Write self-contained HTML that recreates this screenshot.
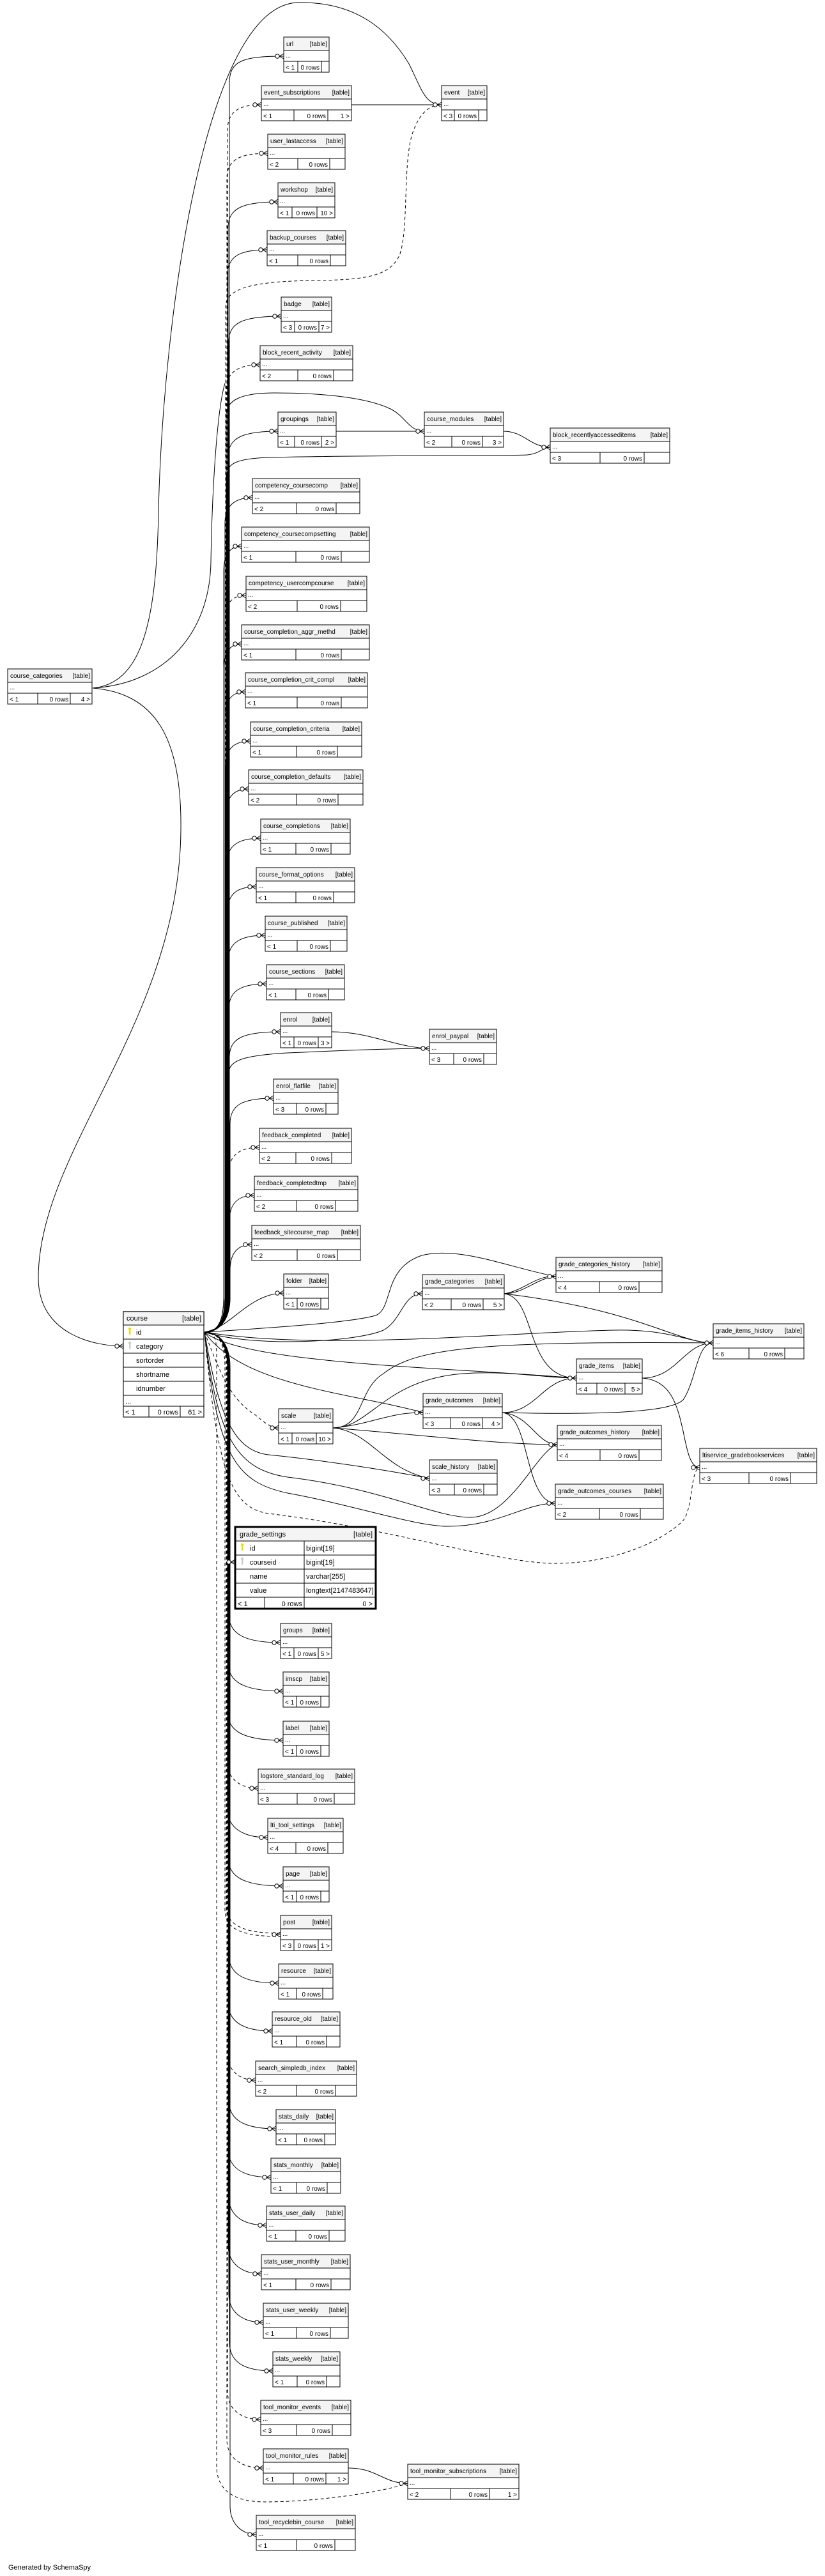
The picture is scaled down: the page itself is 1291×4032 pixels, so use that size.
<!DOCTYPE html>
<html><head><meta charset="utf-8"><style>
html,body{margin:0;padding:0;background:#fff}
svg{display:block}
text{font-family:"Liberation Sans",sans-serif;font-size:10px;fill:#000}
.r{text-anchor:end}
.b{fill:#fff;stroke:#000;stroke-width:1}
.h{fill:#f4f4f4;stroke:#000;stroke-width:1}
.l{fill:none;stroke:#000;stroke-width:1}
.e{fill:none;stroke:#000;stroke-width:1}
.d{fill:none;stroke:#000;stroke-width:1;stroke-dasharray:5,4}
.f text{font-size:11px}
</style></head><body>
<svg width="1291" height="4032" viewBox="0 0 1291 4032" xmlns="http://www.w3.org/2000/svg">
<defs>
<g id="cf"><line x1="-7" y1="0" x2="0" y2="-4" stroke="#000"/><line x1="-7" y1="0" x2="0" y2="0" stroke="#000"/><line x1="-7" y1="0" x2="0" y2="4" stroke="#000"/><circle cx="-10" cy="0" r="3.2" fill="#fff" stroke="#000"/></g>
</defs>

<!-- edges from course_categories -->
<path class="e" d="M145,1077 C220,1070 245,980 248,800 C255,500 320,8 466,4 C560,2 610,50 640,100 C660,140 665,164 691,164"/>
<path class="e" d="M145,1077 C260,1070 328,990 330,880 C332,760 340,640 352,600"/>
<path class="e" d="M145,1077 C240,1085 285,1150 283,1300 C280,1600 60,1800 60,2000 C60,2090 150,2107 193,2107"/>

<!-- bundle up -->
<path class="e" d="M320,2085 C340,2085 359,2070 359,2030 L359,130 C359,95 380,88 444,88"/>
<path class="d" d="M320,2085 C340,2085 356,2070 356,2030 L356,204 C356,174 375,164 409,164"/>
<path class="d" d="M320,2085 C340,2085 355,2070 355,2030 L355,280 C355,250 375,240 419,240"/>
<path class="e" d="M320,2085 C340,2085 357,2070 357,2030 L357,356 C357,326 380,316 435,316"/>
<path class="e" d="M320,2085 C340,2085 356,2070 356,2030 L356,431 C356,401 375,391 418,391"/>
<path class="e" d="M320,2085 C340,2085 358,2070 358,2030 L358,535 C358,505 380,495 440,495"/>
<path class="d" d="M320,2085 C340,2085 354,2070 354,2030 L354,611 C354,581 375,571 407,571"/>
<path class="e" d="M320,2085 C340,2085 357,2070 357,2030 L357,715 C357,685 380,675 435,675"/>
<path class="e" d="M320,2085 C340,2085 352,2070 352,2030 L352,819 C352,789 370,779 395,779"/>
<path class="e" d="M320,2085 C340,2085 350,2070 350,2030 L350,895 C350,865 362,855 378,855"/>
<path class="d" d="M320,2085 C340,2085 352,2070 352,2030 L352,972 C352,942 365,932 385,932"/>
<path class="e" d="M320,2085 C340,2085 350,2070 350,2030 L350,1048 C350,1018 362,1008 378,1008"/>
<path class="e" d="M320,2085 C340,2085 352,2070 352,2030 L352,1123 C352,1093 365,1083 384,1083"/>
<path class="e" d="M320,2085 C340,2085 353,2070 353,2030 L353,1200 C353,1170 368,1160 392,1160"/>
<path class="e" d="M320,2085 C340,2085 354,2070 354,2030 L354,1275 C354,1245 368,1235 389,1235"/>
<path class="e" d="M320,2085 C340,2085 355,2070 355,2030 L355,1352 C355,1322 375,1312 408,1312"/>
<path class="e" d="M320,2085 C340,2085 356,2070 356,2030 L356,1428 C356,1398 372,1388 401,1388"/>
<path class="e" d="M320,2085 C340,2085 357,2070 357,2030 L357,1504 C357,1474 378,1464 415,1464"/>
<path class="e" d="M320,2085 C340,2085 358,2070 358,2030 L358,1580 C358,1550 378,1540 417,1540"/>
<path class="e" d="M320,2085 C340,2085 359,2070 359,2030 L359,1655 C359,1625 380,1615 439,1615"/>
<path class="e" d="M320,2085 C340,2085 360,2070 360,2030 L360,1759 C360,1729 380,1719 428,1719"/>
<path class="d" d="M320,2085 C340,2085 358,2070 358,2030 L358,1836 C358,1806 378,1796 406,1796"/>
<path class="e" d="M320,2085 C340,2085 359,2070 359,2030 L359,1911 C359,1881 375,1871 398,1871"/>
<path class="e" d="M320,2085 C340,2085 360,2070 360,2030 L360,1988 C360,1958 375,1948 394,1948"/>
<path class="e" d="M320,2085 C345,2080 360,2065 380,2050 C400,2035 420,2024 444,2024"/>
<!-- event dashed, course_modules, blocks, enrol_paypal -->
<path class="d" d="M320,2085 C340,2085 353,2070 353,2030 L353,480 C353,450 400,440 495,439 C580,438 610,430 625,400 C640,360 630,260 645,210 C655,180 670,164 691,164"/>
<path class="e" d="M320,2085 C340,2085 354,2070 354,2030 L354,650 C354,625 380,615 429,615 C520,615 580,625 611,640 C635,652 640,675 664,675"/>
<path class="e" d="M320,2085 C340,2085 355,2070 355,2030 L355,745 C355,725 370,718 420,716 C600,712 780,714 825,712 C845,710 850,700 861,700"/>
<path class="e" d="M320,2085 C340,2085 358,2070 358,2030 L358,1680 C358,1660 380,1652 450,1648 C560,1643 620,1641 672,1641"/>
<path class="e" d="M526,675 L664,675"/>
<path class="e" d="M788,675 C820,675 830,700 861,700"/>
<path class="e" d="M550,164 L691,164"/>
<path class="e" d="M519,1615 C580,1615 620,1640 672,1641"/>

<!-- right side from course -->
<path class="e" d="M320,2085 C400,2080 560,2070 590,2058 C615,2045 600,1985 660,1965 C720,1950 800,1985 870,1998"/>
<path class="e" d="M320,2085 C400,2110 560,2100 600,2082 C630,2065 630,2025 661,2025"/>
<path class="e" d="M320,2085 C500,2115 800,2085 960,2082 C1050,2080 1080,2102 1116,2102"/>
<path class="e" d="M320,2085 C380,2135 700,2140 902,2157"/>
<path class="e" d="M320,2085 C380,2170 550,2180 662,2211"/>
<path class="d" d="M320,2085 C345,2150 360,2190 400,2215 C415,2228 425,2235 436,2235"/>
<path class="e" d="M320,2085 C340,2200 360,2270 420,2277 C500,2285 600,2300 672,2314"/>
<path class="e" d="M320,2085 C340,2250 370,2300 450,2312 C600,2330 680,2375 736,2375 C800,2375 840,2270 872,2261"/>
<path class="e" d="M320,2085 C340,2280 370,2320 450,2337 C550,2355 650,2389 701,2389 C780,2389 820,2353 869,2353"/>
<path class="d" d="M320,2085 C340,2300 360,2360 420,2369 C600,2390 780,2447 868,2447 C980,2447 1050,2400 1069,2380 C1085,2360 1080,2300 1095,2297"/>
<!-- grade inter-table -->
<path class="e" d="M789,2025 C820,2025 840,2000 870,1998"/>
<path class="e" d="M789,2025 C820,2020 840,1995 870,1998"/>
<path class="e" d="M789,2025 C840,2030 820,2157 902,2157"/>
<path class="e" d="M789,2025 C1000,2050 1060,2102 1116,2102"/>
<path class="e" d="M1005,2157 C1060,2157 1070,2102 1116,2102"/>
<path class="e" d="M1005,2157 C1050,2160 1060,2200 1069,2240 C1075,2270 1080,2297 1095,2297"/>
<path class="e" d="M786,2211 C840,2211 850,2157 902,2157"/>
<path class="e" d="M786,2211 C950,2215 1050,2210 1069,2191 C1090,2160 1090,2102 1116,2102"/>
<path class="e" d="M786,2211 C830,2215 840,2261 872,2261"/>
<path class="e" d="M786,2211 C830,2215 820,2350 869,2353"/>
<path class="e" d="M521,2235 C570,2235 560,2174 600,2150 C650,2110 750,2099 1116,2102"/>
<path class="e" d="M521,2235 C580,2235 600,2160 724,2150 C800,2145 850,2157 902,2157"/>
<path class="e" d="M521,2235 C580,2230 610,2210 662,2211"/>
<path class="e" d="M521,2235 C650,2245 780,2261 872,2261"/>
<path class="e" d="M521,2235 C580,2240 600,2300 672,2314"/>

<!-- bundle down -->
<path class="e" d="M320,2085 C340,2085 358,2100 358,2140 L358,2526 C358,2556 380,2571 439,2571"/>
<path class="e" d="M320,2085 C340,2085 357,2100 357,2140 L357,2602 C357,2632 380,2647 443,2647"/>
<path class="e" d="M320,2085 C340,2085 356,2100 356,2140 L356,2679 C356,2709 380,2724 443,2724"/>
<path class="d" d="M320,2085 C340,2085 355,2100 355,2140 L355,2754 C355,2784 375,2799 404,2799"/>
<path class="e" d="M320,2085 C340,2085 356,2100 356,2140 L356,2831 C356,2861 380,2876 419,2876"/>
<path class="e" d="M320,2085 C340,2085 357,2100 357,2140 L357,2907 C357,2937 380,2952 443,2952"/>
<path class="d" d="M320,2085 C340,2085 354,2100 354,2140 L354,2983 C354,3013 380,3026 439,3026"/>
<path class="d" d="M320,2085 C340,2085 352,2100 352,2140 L352,2990 C352,3020 380,3031 439,3031"/>
<path class="e" d="M320,2085 C340,2085 358,2100 358,2140 L358,3059 C358,3089 380,3104 436,3104"/>
<path class="e" d="M320,2085 C340,2085 357,2100 357,2140 L357,3134 C357,3164 380,3179 426,3179"/>
<path class="d" d="M320,2085 C340,2085 355,2100 355,2140 L355,3211 C355,3241 375,3256 400,3256"/>
<path class="e" d="M320,2085 C340,2085 358,2100 358,2140 L358,3287 C358,3317 380,3332 432,3332"/>
<path class="e" d="M320,2085 C340,2085 357,2100 357,2140 L357,3363 C357,3393 380,3408 424,3408"/>
<path class="e" d="M320,2085 C340,2085 358,2100 358,2140 L358,3438 C358,3468 380,3483 417,3483"/>
<path class="e" d="M320,2085 C340,2085 357,2100 357,2140 L357,3514 C357,3544 380,3559 409,3559"/>
<path class="e" d="M320,2085 C340,2085 358,2100 358,2140 L358,3590 C358,3620 380,3635 412,3635"/>
<path class="e" d="M320,2085 C340,2085 359,2100 359,2140 L359,3666 C359,3696 380,3711 427,3711"/>
<path class="d" d="M320,2085 C340,2085 356,2100 356,2140 L356,3742 C356,3772 378,3787 408,3787"/>
<path class="d" d="M320,2085 C340,2085 355,2100 355,2140 L355,3818 C355,3848 378,3863 412,3863"/>
<path class="d" d="M320,2085 C340,2085 339,2100 339,2140 L339,3860 C339,3900 370,3916 413,3916 C500,3916 600,3900 638,3887"/>
<path class="e" d="M320,2085 C340,2085 360,2100 360,2140 L360,3922 C360,3952 380,3967 401,3967"/>
<path class="e" d="M545,3863 C590,3863 600,3887 638,3887"/>

<!-- markers -->
<use href="#cf" x="444" y="88"/><use href="#cf" x="409" y="164"/><use href="#cf" x="691" y="164"/><use href="#cf" x="419" y="240"/><use href="#cf" x="435" y="316"/><use href="#cf" x="418" y="391"/><use href="#cf" x="440" y="495"/><use href="#cf" x="407" y="571"/><use href="#cf" x="435" y="675"/><use href="#cf" x="664" y="675"/><use href="#cf" x="861" y="700"/><use href="#cf" x="395" y="779"/><use href="#cf" x="378" y="855"/><use href="#cf" x="385" y="932"/><use href="#cf" x="378" y="1008"/><use href="#cf" x="384" y="1083"/><use href="#cf" x="392" y="1160"/><use href="#cf" x="389" y="1235"/><use href="#cf" x="408" y="1312"/><use href="#cf" x="401" y="1388"/><use href="#cf" x="415" y="1464"/><use href="#cf" x="417" y="1540"/><use href="#cf" x="439" y="1615"/><use href="#cf" x="672" y="1641"/><use href="#cf" x="428" y="1719"/><use href="#cf" x="406" y="1796"/><use href="#cf" x="398" y="1871"/><use href="#cf" x="394" y="1948"/><use href="#cf" x="444" y="2024"/><use href="#cf" x="661" y="2025"/><use href="#cf" x="870" y="1998"/><use href="#cf" x="1116" y="2102"/><use href="#cf" x="902" y="2157"/><use href="#cf" x="662" y="2211"/><use href="#cf" x="436" y="2235"/><use href="#cf" x="872" y="2261"/><use href="#cf" x="1095" y="2297"/><use href="#cf" x="672" y="2314"/><use href="#cf" x="869" y="2353"/><use href="#cf" x="193" y="2107"/><use href="#cf" x="368" y="2445"/><use href="#cf" x="439" y="2571"/><use href="#cf" x="443" y="2647"/><use href="#cf" x="443" y="2724"/><use href="#cf" x="404" y="2799"/><use href="#cf" x="419" y="2876"/><use href="#cf" x="443" y="2952"/><use href="#cf" x="439" y="3028"/><use href="#cf" x="436" y="3104"/><use href="#cf" x="426" y="3179"/><use href="#cf" x="400" y="3256"/><use href="#cf" x="432" y="3332"/><use href="#cf" x="424" y="3408"/><use href="#cf" x="417" y="3483"/><use href="#cf" x="409" y="3559"/><use href="#cf" x="412" y="3635"/><use href="#cf" x="427" y="3711"/><use href="#cf" x="408" y="3787"/><use href="#cf" x="412" y="3863"/><use href="#cf" x="638" y="3887"/><use href="#cf" x="401" y="3967"/>

<!-- boxes -->
<g transform="translate(444,58)"><rect class="b" width="71" height="55"/><rect class="h" width="71" height="21"/><path class="l" d="M0,38H71M22,38V55M59,38V55"/><text x="4" y="14">url</text><text class="r" x="68" y="14">[table]</text><text x="3" y="32">...</text><text x="3" y="51">&lt; 1</text><text class="r" x="56" y="51">0 rows</text></g>
<g transform="translate(409,134)"><rect class="b" width="141" height="55"/><rect class="h" width="141" height="21"/><path class="l" d="M0,38H141M51,38V55M104,38V55"/><text x="4" y="14">event_subscriptions</text><text class="r" x="138" y="14">[table]</text><text x="3" y="32">...</text><text x="3" y="51">&lt; 1</text><text class="r" x="101" y="51">0 rows</text><text class="r" x="138" y="51">1 &gt;</text></g>
<g transform="translate(691,134)"><rect class="b" width="71" height="55"/><rect class="h" width="71" height="21"/><path class="l" d="M0,38H71M20,38V55M58,38V55"/><text x="4" y="14">event</text><text class="r" x="68" y="14">[table]</text><text x="3" y="32">...</text><text x="3" y="51">&lt; 3</text><text class="r" x="55" y="51">0 rows</text></g>
<g transform="translate(419,210)"><rect class="b" width="121" height="55"/><rect class="h" width="121" height="21"/><path class="l" d="M0,38H121M47,38V55M97,38V55"/><text x="4" y="14">user_lastaccess</text><text class="r" x="118" y="14">[table]</text><text x="3" y="32">...</text><text x="3" y="51">&lt; 2</text><text class="r" x="94" y="51">0 rows</text></g>
<g transform="translate(435,286)"><rect class="b" width="89" height="55"/><rect class="h" width="89" height="21"/><path class="l" d="M0,38H89M22,38V55M61,38V55"/><text x="4" y="14">workshop</text><text class="r" x="86" y="14">[table]</text><text x="3" y="32">...</text><text x="3" y="51">&lt; 1</text><text class="r" x="58" y="51">0 rows</text><text class="r" x="86" y="51">10 &gt;</text></g>
<g transform="translate(418,361)"><rect class="b" width="123" height="55"/><rect class="h" width="123" height="21"/><path class="l" d="M0,38H123M48,38V55M99,38V55"/><text x="4" y="14">backup_courses</text><text class="r" x="120" y="14">[table]</text><text x="3" y="32">...</text><text x="3" y="51">&lt; 1</text><text class="r" x="96" y="51">0 rows</text></g>
<g transform="translate(440,465)"><rect class="b" width="79" height="55"/><rect class="h" width="79" height="21"/><path class="l" d="M0,38H79M21,38V55M59,38V55"/><text x="4" y="14">badge</text><text class="r" x="76" y="14">[table]</text><text x="3" y="32">...</text><text x="3" y="51">&lt; 3</text><text class="r" x="56" y="51">0 rows</text><text class="r" x="76" y="51">7 &gt;</text></g>
<g transform="translate(407,541)"><rect class="b" width="145" height="55"/><rect class="h" width="145" height="21"/><path class="l" d="M0,38H145M59,38V55M115,38V55"/><text x="4" y="14">block_recent_activity</text><text class="r" x="142" y="14">[table]</text><text x="3" y="32">...</text><text x="3" y="51">&lt; 2</text><text class="r" x="112" y="51">0 rows</text></g>
<g transform="translate(435,645)"><rect class="b" width="91" height="55"/><rect class="h" width="91" height="21"/><path class="l" d="M0,38H91M26,38V55M68,38V55"/><text x="4" y="14">groupings</text><text class="r" x="88" y="14">[table]</text><text x="3" y="32">...</text><text x="3" y="51">&lt; 1</text><text class="r" x="65" y="51">0 rows</text><text class="r" x="88" y="51">2 &gt;</text></g>
<g transform="translate(664,645)"><rect class="b" width="124" height="55"/><rect class="h" width="124" height="21"/><path class="l" d="M0,38H124M43,38V55M91,38V55"/><text x="4" y="14">course_modules</text><text class="r" x="121" y="14">[table]</text><text x="3" y="32">...</text><text x="3" y="51">&lt; 2</text><text class="r" x="88" y="51">0 rows</text><text class="r" x="121" y="51">3 &gt;</text></g>
<g transform="translate(861,670)"><rect class="b" width="187" height="55"/><rect class="h" width="187" height="21"/><path class="l" d="M0,38H187M78,38V55M147,38V55"/><text x="4" y="14">block_recentlyaccesseditems</text><text class="r" x="184" y="14">[table]</text><text x="3" y="32">...</text><text x="3" y="51">&lt; 3</text><text class="r" x="144" y="51">0 rows</text></g>
<g transform="translate(395,749)"><rect class="b" width="168" height="55"/><rect class="h" width="168" height="21"/><path class="l" d="M0,38H168M69,38V55M131,38V55"/><text x="4" y="14">competency_coursecomp</text><text class="r" x="165" y="14">[table]</text><text x="3" y="32">...</text><text x="3" y="51">&lt; 2</text><text class="r" x="128" y="51">0 rows</text></g>
<g transform="translate(378,825)"><rect class="b" width="200" height="55"/><rect class="h" width="200" height="21"/><path class="l" d="M0,38H200M85,38V55M156,38V55"/><text x="4" y="14">competency_coursecompsetting</text><text class="r" x="197" y="14">[table]</text><text x="3" y="32">...</text><text x="3" y="51">&lt; 1</text><text class="r" x="153" y="51">0 rows</text></g>
<g transform="translate(385,902)"><rect class="b" width="189" height="55"/><rect class="h" width="189" height="21"/><path class="l" d="M0,38H189M80,38V55M148,38V55"/><text x="4" y="14">competency_usercompcourse</text><text class="r" x="186" y="14">[table]</text><text x="3" y="32">...</text><text x="3" y="51">&lt; 2</text><text class="r" x="145" y="51">0 rows</text></g>
<g transform="translate(378,978)"><rect class="b" width="200" height="55"/><rect class="h" width="200" height="21"/><path class="l" d="M0,38H200M85,38V55M156,38V55"/><text x="4" y="14">course_completion_aggr_methd</text><text class="r" x="197" y="14">[table]</text><text x="3" y="32">...</text><text x="3" y="51">&lt; 1</text><text class="r" x="153" y="51">0 rows</text></g>
<g transform="translate(384,1053)"><rect class="b" width="191" height="55"/><rect class="h" width="191" height="21"/><path class="l" d="M0,38H191M81,38V55M150,38V55"/><text x="4" y="14">course_completion_crit_compl</text><text class="r" x="188" y="14">[table]</text><text x="3" y="32">...</text><text x="3" y="51">&lt; 1</text><text class="r" x="147" y="51">0 rows</text></g>
<g transform="translate(392,1130)"><rect class="b" width="174" height="55"/><rect class="h" width="174" height="21"/><path class="l" d="M0,38H174M72,38V55M136,38V55"/><text x="4" y="14">course_completion_criteria</text><text class="r" x="171" y="14">[table]</text><text x="3" y="32">...</text><text x="3" y="51">&lt; 1</text><text class="r" x="133" y="51">0 rows</text></g>
<g transform="translate(389,1205)"><rect class="b" width="179" height="55"/><rect class="h" width="179" height="21"/><path class="l" d="M0,38H179M75,38V55M140,38V55"/><text x="4" y="14">course_completion_defaults</text><text class="r" x="176" y="14">[table]</text><text x="3" y="32">...</text><text x="3" y="51">&lt; 2</text><text class="r" x="137" y="51">0 rows</text></g>
<g transform="translate(408,1282)"><rect class="b" width="140" height="55"/><rect class="h" width="140" height="21"/><path class="l" d="M0,38H140M55,38V55M110,38V55"/><text x="4" y="14">course_completions</text><text class="r" x="137" y="14">[table]</text><text x="3" y="32">...</text><text x="3" y="51">&lt; 1</text><text class="r" x="107" y="51">0 rows</text></g>
<g transform="translate(401,1358)"><rect class="b" width="154" height="55"/><rect class="h" width="154" height="21"/><path class="l" d="M0,38H154M62,38V55M121,38V55"/><text x="4" y="14">course_format_options</text><text class="r" x="151" y="14">[table]</text><text x="3" y="32">...</text><text x="3" y="51">&lt; 1</text><text class="r" x="118" y="51">0 rows</text></g>
<g transform="translate(415,1434)"><rect class="b" width="128" height="55"/><rect class="h" width="128" height="21"/><path class="l" d="M0,38H128M50,38V55M102,38V55"/><text x="4" y="14">course_published</text><text class="r" x="125" y="14">[table]</text><text x="3" y="32">...</text><text x="3" y="51">&lt; 1</text><text class="r" x="99" y="51">0 rows</text></g>
<g transform="translate(417,1510)"><rect class="b" width="122" height="55"/><rect class="h" width="122" height="21"/><path class="l" d="M0,38H122M46,38V55M97,38V55"/><text x="4" y="14">course_sections</text><text class="r" x="119" y="14">[table]</text><text x="3" y="32">...</text><text x="3" y="51">&lt; 1</text><text class="r" x="94" y="51">0 rows</text></g>
<g transform="translate(439,1585)"><rect class="b" width="80" height="55"/><rect class="h" width="80" height="21"/><path class="l" d="M0,38H80M21,38V55M59,38V55"/><text x="4" y="14">enrol</text><text class="r" x="77" y="14">[table]</text><text x="3" y="32">...</text><text x="3" y="51">&lt; 1</text><text class="r" x="56" y="51">0 rows</text><text class="r" x="77" y="51">3 &gt;</text></g>
<g transform="translate(672,1611)"><rect class="b" width="105" height="55"/><rect class="h" width="105" height="21"/><path class="l" d="M0,38H105M38,38V55M85,38V55"/><text x="4" y="14">enrol_paypal</text><text class="r" x="102" y="14">[table]</text><text x="3" y="32">...</text><text x="3" y="51">&lt; 3</text><text class="r" x="82" y="51">0 rows</text></g>
<g transform="translate(428,1689)"><rect class="b" width="101" height="55"/><rect class="h" width="101" height="21"/><path class="l" d="M0,38H101M36,38V55M82,38V55"/><text x="4" y="14">enrol_flatfile</text><text class="r" x="98" y="14">[table]</text><text x="3" y="32">...</text><text x="3" y="51">&lt; 3</text><text class="r" x="79" y="51">0 rows</text></g>
<g transform="translate(406,1766)"><rect class="b" width="144" height="55"/><rect class="h" width="144" height="21"/><path class="l" d="M0,38H144M57,38V55M113,38V55"/><text x="4" y="14">feedback_completed</text><text class="r" x="141" y="14">[table]</text><text x="3" y="32">...</text><text x="3" y="51">&lt; 2</text><text class="r" x="110" y="51">0 rows</text></g>
<g transform="translate(398,1841)"><rect class="b" width="162" height="55"/><rect class="h" width="162" height="21"/><path class="l" d="M0,38H162M66,38V55M127,38V55"/><text x="4" y="14">feedback_completedtmp</text><text class="r" x="159" y="14">[table]</text><text x="3" y="32">...</text><text x="3" y="51">&lt; 2</text><text class="r" x="124" y="51">0 rows</text></g>
<g transform="translate(394,1918)"><rect class="b" width="170" height="55"/><rect class="h" width="170" height="21"/><path class="l" d="M0,38H170M71,38V55M134,38V55"/><text x="4" y="14">feedback_sitecourse_map</text><text class="r" x="167" y="14">[table]</text><text x="3" y="32">...</text><text x="3" y="51">&lt; 2</text><text class="r" x="131" y="51">0 rows</text></g>
<g transform="translate(444,1994)"><rect class="b" width="70" height="55"/><rect class="h" width="70" height="21"/><path class="l" d="M0,38H70M21,38V55M58,38V55"/><text x="4" y="14">folder</text><text class="r" x="67" y="14">[table]</text><text x="3" y="32">...</text><text x="3" y="51">&lt; 1</text><text class="r" x="55" y="51">0 rows</text></g>
<g transform="translate(661,1995)"><rect class="b" width="128" height="55"/><rect class="h" width="128" height="21"/><path class="l" d="M0,38H128M45,38V55M95,38V55"/><text x="4" y="14">grade_categories</text><text class="r" x="125" y="14">[table]</text><text x="3" y="32">...</text><text x="3" y="51">&lt; 2</text><text class="r" x="92" y="51">0 rows</text><text class="r" x="125" y="51">5 &gt;</text></g>
<g transform="translate(870,1968)"><rect class="b" width="166" height="55"/><rect class="h" width="166" height="21"/><path class="l" d="M0,38H166M68,38V55M130,38V55"/><text x="4" y="14">grade_categories_history</text><text class="r" x="163" y="14">[table]</text><text x="3" y="32">...</text><text x="3" y="51">&lt; 4</text><text class="r" x="127" y="51">0 rows</text></g>
<g transform="translate(1116,2072)"><rect class="b" width="142" height="55"/><rect class="h" width="142" height="21"/><path class="l" d="M0,38H142M56,38V55M112,38V55"/><text x="4" y="14">grade_items_history</text><text class="r" x="139" y="14">[table]</text><text x="3" y="32">...</text><text x="3" y="51">&lt; 6</text><text class="r" x="109" y="51">0 rows</text></g>
<g transform="translate(902,2127)"><rect class="b" width="103" height="55"/><rect class="h" width="103" height="21"/><path class="l" d="M0,38H103M32,38V55M76,38V55"/><text x="4" y="14">grade_items</text><text class="r" x="100" y="14">[table]</text><text x="3" y="32">...</text><text x="3" y="51">&lt; 4</text><text class="r" x="73" y="51">0 rows</text><text class="r" x="100" y="51">5 &gt;</text></g>
<g transform="translate(662,2181)"><rect class="b" width="124" height="55"/><rect class="h" width="124" height="21"/><path class="l" d="M0,38H124M43,38V55M93,38V55"/><text x="4" y="14">grade_outcomes</text><text class="r" x="121" y="14">[table]</text><text x="3" y="32">...</text><text x="3" y="51">&lt; 3</text><text class="r" x="90" y="51">0 rows</text><text class="r" x="121" y="51">4 &gt;</text></g>
<g transform="translate(436,2205)"><rect class="b" width="85" height="55"/><rect class="h" width="85" height="21"/><path class="l" d="M0,38H85M21,38V55M59,38V55"/><text x="4" y="14">scale</text><text class="r" x="82" y="14">[table]</text><text x="3" y="32">...</text><text x="3" y="51">&lt; 1</text><text class="r" x="56" y="51">0 rows</text><text class="r" x="82" y="51">10 &gt;</text></g>
<g transform="translate(872,2231)"><rect class="b" width="163" height="55"/><rect class="h" width="163" height="21"/><path class="l" d="M0,38H163M67,38V55M128,38V55"/><text x="4" y="14">grade_outcomes_history</text><text class="r" x="160" y="14">[table]</text><text x="3" y="32">...</text><text x="3" y="51">&lt; 4</text><text class="r" x="125" y="51">0 rows</text></g>
<g transform="translate(1095,2267)"><rect class="b" width="183" height="55"/><rect class="h" width="183" height="21"/><path class="l" d="M0,38H183M77,38V55M142,38V55"/><text x="4" y="14">ltiservice_gradebookservices</text><text class="r" x="180" y="14">[table]</text><text x="3" y="32">...</text><text x="3" y="51">&lt; 3</text><text class="r" x="139" y="51">0 rows</text></g>
<g transform="translate(672,2285)"><rect class="b" width="106" height="55"/><rect class="h" width="106" height="21"/><path class="l" d="M0,38H106M39,38V55M85,38V55"/><text x="4" y="14">scale_history</text><text class="r" x="103" y="14">[table]</text><text x="3" y="32">...</text><text x="3" y="51">&lt; 3</text><text class="r" x="82" y="51">0 rows</text></g>
<g transform="translate(869,2323)"><rect class="b" width="169" height="55"/><rect class="h" width="169" height="21"/><path class="l" d="M0,38H169M69,38V55M133,38V55"/><text x="4" y="14">grade_outcomes_courses</text><text class="r" x="166" y="14">[table]</text><text x="3" y="32">...</text><text x="3" y="51">&lt; 2</text><text class="r" x="130" y="51">0 rows</text></g>
<g transform="translate(439,2541)"><rect class="b" width="80" height="55"/><rect class="h" width="80" height="21"/><path class="l" d="M0,38H80M21,38V55M59,38V55"/><text x="4" y="14">groups</text><text class="r" x="77" y="14">[table]</text><text x="3" y="32">...</text><text x="3" y="51">&lt; 1</text><text class="r" x="56" y="51">0 rows</text><text class="r" x="77" y="51">5 &gt;</text></g>
<g transform="translate(443,2617)"><rect class="b" width="72" height="55"/><rect class="h" width="72" height="21"/><path class="l" d="M0,38H72M21,38V55M59,38V55"/><text x="4" y="14">imscp</text><text class="r" x="69" y="14">[table]</text><text x="3" y="32">...</text><text x="3" y="51">&lt; 1</text><text class="r" x="56" y="51">0 rows</text></g>
<g transform="translate(443,2694)"><rect class="b" width="72" height="55"/><rect class="h" width="72" height="21"/><path class="l" d="M0,38H72M21,38V55M59,38V55"/><text x="4" y="14">label</text><text class="r" x="69" y="14">[table]</text><text x="3" y="32">...</text><text x="3" y="51">&lt; 1</text><text class="r" x="56" y="51">0 rows</text></g>
<g transform="translate(404,2769)"><rect class="b" width="151" height="55"/><rect class="h" width="151" height="21"/><path class="l" d="M0,38H151M61,38V55M119,38V55"/><text x="4" y="14">logstore_standard_log</text><text class="r" x="148" y="14">[table]</text><text x="3" y="32">...</text><text x="3" y="51">&lt; 3</text><text class="r" x="116" y="51">0 rows</text></g>
<g transform="translate(419,2846)"><rect class="b" width="118" height="55"/><rect class="h" width="118" height="21"/><path class="l" d="M0,38H118M44,38V55M94,38V55"/><text x="4" y="14">lti_tool_settings</text><text class="r" x="115" y="14">[table]</text><text x="3" y="32">...</text><text x="3" y="51">&lt; 4</text><text class="r" x="91" y="51">0 rows</text></g>
<g transform="translate(443,2922)"><rect class="b" width="72" height="55"/><rect class="h" width="72" height="21"/><path class="l" d="M0,38H72M21,38V55M59,38V55"/><text x="4" y="14">page</text><text class="r" x="69" y="14">[table]</text><text x="3" y="32">...</text><text x="3" y="51">&lt; 1</text><text class="r" x="56" y="51">0 rows</text></g>
<g transform="translate(439,2998)"><rect class="b" width="80" height="55"/><rect class="h" width="80" height="21"/><path class="l" d="M0,38H80M21,38V55M59,38V55"/><text x="4" y="14">post</text><text class="r" x="77" y="14">[table]</text><text x="3" y="32">...</text><text x="3" y="51">&lt; 3</text><text class="r" x="56" y="51">0 rows</text><text class="r" x="77" y="51">1 &gt;</text></g>
<g transform="translate(436,3074)"><rect class="b" width="85" height="55"/><rect class="h" width="85" height="21"/><path class="l" d="M0,38H85M28,38V55M69,38V55"/><text x="4" y="14">resource</text><text class="r" x="82" y="14">[table]</text><text x="3" y="32">...</text><text x="3" y="51">&lt; 1</text><text class="r" x="66" y="51">0 rows</text></g>
<g transform="translate(426,3149)"><rect class="b" width="106" height="55"/><rect class="h" width="106" height="21"/><path class="l" d="M0,38H106M38,38V55M85,38V55"/><text x="4" y="14">resource_old</text><text class="r" x="103" y="14">[table]</text><text x="3" y="32">...</text><text x="3" y="51">&lt; 1</text><text class="r" x="82" y="51">0 rows</text></g>
<g transform="translate(400,3226)"><rect class="b" width="158" height="55"/><rect class="h" width="158" height="21"/><path class="l" d="M0,38H158M64,38V55M125,38V55"/><text x="4" y="14">search_simpledb_index</text><text class="r" x="155" y="14">[table]</text><text x="3" y="32">...</text><text x="3" y="51">&lt; 2</text><text class="r" x="122" y="51">0 rows</text></g>
<g transform="translate(432,3302)"><rect class="b" width="93" height="55"/><rect class="h" width="93" height="21"/><path class="l" d="M0,38H93M32,38V55M76,38V55"/><text x="4" y="14">stats_daily</text><text class="r" x="90" y="14">[table]</text><text x="3" y="32">...</text><text x="3" y="51">&lt; 1</text><text class="r" x="73" y="51">0 rows</text></g>
<g transform="translate(424,3378)"><rect class="b" width="109" height="55"/><rect class="h" width="109" height="21"/><path class="l" d="M0,38H109M40,38V55M88,38V55"/><text x="4" y="14">stats_monthly</text><text class="r" x="106" y="14">[table]</text><text x="3" y="32">...</text><text x="3" y="51">&lt; 1</text><text class="r" x="85" y="51">0 rows</text></g>
<g transform="translate(417,3453)"><rect class="b" width="123" height="55"/><rect class="h" width="123" height="21"/><path class="l" d="M0,38H123M46,38V55M98,38V55"/><text x="4" y="14">stats_user_daily</text><text class="r" x="120" y="14">[table]</text><text x="3" y="32">...</text><text x="3" y="51">&lt; 1</text><text class="r" x="95" y="51">0 rows</text></g>
<g transform="translate(409,3529)"><rect class="b" width="139" height="55"/><rect class="h" width="139" height="21"/><path class="l" d="M0,38H139M54,38V55M109,38V55"/><text x="4" y="14">stats_user_monthly</text><text class="r" x="136" y="14">[table]</text><text x="3" y="32">...</text><text x="3" y="51">&lt; 1</text><text class="r" x="106" y="51">0 rows</text></g>
<g transform="translate(412,3605)"><rect class="b" width="133" height="55"/><rect class="h" width="133" height="21"/><path class="l" d="M0,38H133M52,38V55M105,38V55"/><text x="4" y="14">stats_user_weekly</text><text class="r" x="130" y="14">[table]</text><text x="3" y="32">...</text><text x="3" y="51">&lt; 1</text><text class="r" x="102" y="51">0 rows</text></g>
<g transform="translate(427,3681)"><rect class="b" width="105" height="55"/><rect class="h" width="105" height="21"/><path class="l" d="M0,38H105M38,38V55M84,38V55"/><text x="4" y="14">stats_weekly</text><text class="r" x="102" y="14">[table]</text><text x="3" y="32">...</text><text x="3" y="51">&lt; 1</text><text class="r" x="81" y="51">0 rows</text></g>
<g transform="translate(408,3757)"><rect class="b" width="141" height="55"/><rect class="h" width="141" height="21"/><path class="l" d="M0,38H141M56,38V55M112,38V55"/><text x="4" y="14">tool_monitor_events</text><text class="r" x="138" y="14">[table]</text><text x="3" y="32">...</text><text x="3" y="51">&lt; 3</text><text class="r" x="109" y="51">0 rows</text></g>
<g transform="translate(412,3833)"><rect class="b" width="133" height="55"/><rect class="h" width="133" height="21"/><path class="l" d="M0,38H133M47,38V55M98,38V55"/><text x="4" y="14">tool_monitor_rules</text><text class="r" x="130" y="14">[table]</text><text x="3" y="32">...</text><text x="3" y="51">&lt; 1</text><text class="r" x="95" y="51">0 rows</text><text class="r" x="130" y="51">1 &gt;</text></g>
<g transform="translate(638,3857)"><rect class="b" width="174" height="55"/><rect class="h" width="174" height="21"/><path class="l" d="M0,38H174M67,38V55M128,38V55"/><text x="4" y="14">tool_monitor_subscriptions</text><text class="r" x="171" y="14">[table]</text><text x="3" y="32">...</text><text x="3" y="51">&lt; 2</text><text class="r" x="125" y="51">0 rows</text><text class="r" x="171" y="51">1 &gt;</text></g>
<g transform="translate(401,3937)"><rect class="b" width="155" height="55"/><rect class="h" width="155" height="21"/><path class="l" d="M0,38H155M63,38V55M123,38V55"/><text x="4" y="14">tool_recyclebin_course</text><text class="r" x="152" y="14">[table]</text><text x="3" y="32">...</text><text x="3" y="51">&lt; 1</text><text class="r" x="120" y="51">0 rows</text></g>
<g transform="translate(12,1047)"><rect class="b" width="132" height="55"/><rect class="h" width="132" height="21"/><path class="l" d="M0,38H132M47,38V55M98,38V55"/><text x="4" y="14">course_categories</text><text class="r" x="129" y="14">[table]</text><text x="3" y="32">...</text><text x="3" y="51">&lt; 1</text><text class="r" x="95" y="51">0 rows</text><text class="r" x="129" y="51">4 &gt;</text></g>

<!-- course -->
<g class="f" transform="translate(193,2053)"><rect class="b" width="126" height="165" style="stroke:#444;stroke-width:1.5"/><rect class="h" width="126" height="21"/><path class="l" d="M0,43H126M0,65H126M0,87H126M0,109H126M0,131H126M0,148H126M40,148V165M89,148V165"/><text x="5" y="14">course</text><text class="r" x="122" y="14">[table]</text>
<rect x="9" y="27" width="2.5" height="9" fill="#e8e000"/><circle cx="10" cy="27" r="2.2" fill="#e8e000"/>
<rect x="9" y="49" width="2.5" height="9" fill="#ccc"/><circle cx="10" cy="49" r="2.2" fill="#ccc"/>
<text x="20" y="36">id</text><text x="20" y="58">category</text><text x="20" y="80">sortorder</text><text x="20" y="102">shortname</text><text x="20" y="124">idnumber</text><text x="3" y="144">...</text><text x="3" y="161">&lt; 1</text><text class="r" x="86" y="161">0 rows</text><text class="r" x="123" y="161">61 &gt;</text></g>

<!-- grade_settings -->
<g class="f" transform="translate(368,2390)"><rect width="220" height="128" fill="#fff" stroke="#000" stroke-width="3"/><rect x="1.5" y="1.5" width="217" height="20" fill="#f4f4f4"/><path class="l" d="M0,22H220M0,44H220M0,66H220M0,88H220M0,110H220M108,22V128M46,110V128"/><text x="7" y="15">grade_settings</text><text class="r" x="215" y="15">[table]</text>
<rect x="10" y="28" width="2.5" height="9" fill="#e8e000"/><circle cx="11" cy="28" r="2.2" fill="#e8e000"/>
<rect x="10" y="50" width="2.5" height="9" fill="#ccc"/><circle cx="11" cy="50" r="2.2" fill="#ccc"/>
<text x="23" y="37">id</text><text x="111" y="37">bigint[19]</text><text x="23" y="59">courseid</text><text x="111" y="59">bigint[19]</text><text x="23" y="81">name</text><text x="111" y="81">varchar[255]</text><text x="23" y="103">value</text><text x="111" y="103">longtext[2147483647]</text><text x="4" y="124">&lt; 1</text><text class="r" x="105" y="124">0 rows</text><text class="r" x="215" y="124">0 &gt;</text></g>

<text x="13" y="4022" style="font-size:11px">Generated by SchemaSpy</text>
</svg>
</body></html>
